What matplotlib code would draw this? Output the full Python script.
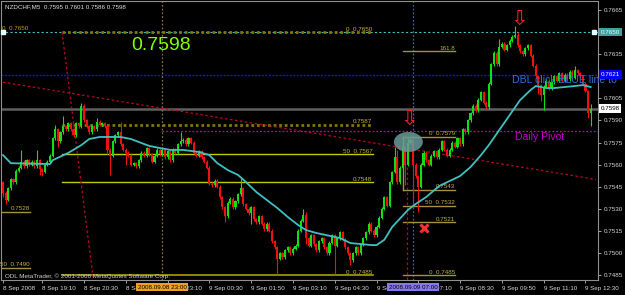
import numpy as np
import pandas as pd
import matplotlib
matplotlib.use("Agg")
import matplotlib.pyplot as plt
import matplotlib.transforms as mtransforms
from matplotlib.patches import Ellipse

# NZDCHF M5 bars, 8 Sep 2008 17:55 .. 9 Sep 2008 12:40, closes in pips
closes_pips = [
    7541, 7536, 7544, 7550, 7548, 7556, 7558, 7562, 7559, 7563,
    7560, 7562, 7559, 7563, 7557, 7555, 7560, 7562, 7566, 7578,
    7584, 7576, 7582, 7586, 7584, 7588, 7584, 7580, 7588, 7586,
    7600, 7590, 7586, 7582, 7586, 7584, 7589, 7587, 7588,
    7586, 7570, 7566, 7576, 7580, 7582, 7574, 7570, 7568, 7566,
    7560, 7561, 7559, 7563, 7568, 7566, 7571, 7567,
    7562, 7566, 7570, 7567, 7570, 7565, 7569, 7563, 7570, 7568,
    7574, 7576, 7577, 7574, 7578, 7575, 7568, 7566, 7569, 7565,
    7562, 7558, 7547, 7546, 7549, 7545, 7538, 7531, 7525, 7534,
    7537, 7531, 7535, 7540, 7544, 7533, 7530, 7527, 7531, 7523,
    7521, 7525, 7520, 7516, 7520, 7515, 7508, 7504, 7496, 7500,
    7497, 7502, 7504, 7500, 7503,
    7505, 7515, 7522, 7526, 7510, 7505, 7512, 7506, 7502, 7508,
    7510, 7504, 7500, 7507, 7512, 7505, 7510, 7514, 7509, 7504,
    7500, 7495, 7500, 7504, 7500, 7506, 7510, 7514, 7520, 7515,
    7512, 7518, 7524, 7530, 7538, 7532, 7548, 7555, 7565, 7548,
    7558, 7572, 7560, 7575, 7577, 7560, 7552, 7545, 7560, 7568,
    7563, 7560, 7566, 7569, 7565, 7570, 7576, 7570, 7566, 7570,
    7575, 7572, 7578, 7574, 7584, 7582, 7590, 7595, 7600, 7597,
    7604, 7609, 7602, 7599, 7615, 7628, 7636, 7628, 7640, 7642,
    7638, 7641,
    7644, 7647, 7648, 7641, 7637, 7635, 7639, 7641,
    7634, 7627, 7620, 7614, 7607, 7613, 7617, 7612, 7616, 7620,
    7617, 7622, 7617, 7621, 7618, 7623, 7619, 7624, 7622, 7620,
    7615, 7610, 7595, 7598,
]
first_open_pips = 7548

# wicks that stick out more than a pip (bar index -> price in pips)
high_pips = {7: 7570, 13: 7570, 20: 7587, 23: 7593, 30: 7602, 36: 7592, 45: 7589,
             68: 7582, 91: 7551, 115: 7530, 116: 7528, 150: 7572, 151: 7570,
             153: 7578, 155: 7579, 190: 7645, 196: 7654, 197: 7650, 219: 7627,
             225: 7601}
low_pips = {0: 7538, 1: 7533, 14: 7553, 15: 7552, 21: 7572, 40: 7567, 41: 7553,
            47: 7560, 85: 7521, 95: 7520, 105: 7486, 116: 7506, 127: 7486,
            133: 7492, 154: 7546, 157: 7531, 159: 7528, 205: 7608, 206: 7603,
            207: 7597, 224: 7592, 225: 7586}

# moving average (cyan)
ma_bar = [0, 3, 18, 19, 25, 30, 33, 37, 45, 49, 53, 56, 60, 64, 69, 75, 79, 82,
          86, 90, 93, 97, 101, 105, 109, 113, 116, 120, 129, 133, 141, 143, 146,
          149, 155, 158, 162, 167, 171, 175, 179, 183, 186, 190, 194, 198, 202,
          204, 208, 211, 215, 219, 222, 225]
ma_pips = [7566.5, 7561, 7560.4, 7563, 7568, 7573.3, 7577.4, 7578.8, 7578.8,
           7577.4, 7574.7, 7572.7, 7571.3, 7570, 7570, 7568.6, 7566.5, 7561.1,
           7556.4, 7553, 7548.2, 7541.4, 7536, 7530.6, 7524.5, 7519, 7515.6,
           7513.6, 7510.2, 7506.8, 7505.4, 7505.4, 7509, 7517.7, 7529.2, 7533.3,
           7538, 7545.5, 7548.9, 7552.3, 7558.4, 7566.5, 7573.3, 7583.5, 7593.7,
           7603.9, 7610.7, 7613.4, 7612, 7612, 7612.7, 7613.4, 7614, 7612.7]

# fibonacci objects
fib_a_levels = [0.7650, 0.7587, 0.7567, 0.7548, 0.7485]
fib_a_labels = ["0  0.7650", "0.7587", "50  0.7567", "0.7548", "0  0.7485"]
fib_a_span = (22.6, 141.7)
fib_b_levels = [0.7637, 0.7579, 0.7543, 0.7532, 0.7521, 0.7485]
fib_b_labels = ["161.8", "0  0.7579", "0.7543", "50  0.7532", "0.7521", "0  0.7485"]
fib_b_span = (153.1, 173.0)
fib_c_levels = [0.7528, 0.7490]
fib_c_labels = ["0.7528", "50  0.7490"]
fib_c_span = (-1.0, 10.3)

cyan_level = 0.7650
cyan_label = "0  0.7650"
blue_level = 0.7621
bid_level = 0.7598
pivot_level = 0.7583
vline_times = ["2008-09-08 23:00", "2008-09-09 07:00"]
trend_a = ([0, 227], [0.7616, 0.7550])
trend_b = ([22.6, 34.5], [0.7650, 0.7483])
trend_c = ([154.6, 154.6], [0.7579, 0.7470])
arrows = [(197.5, 0.7659), (155.4, 0.7591)]
cross = (161.2, 0.7517)
ellipse_c = (155.2, 0.75754)

start = pd.Timestamp("2008-09-08 17:55")
n = len(closes_pips)
times = start + pd.to_timedelta(np.arange(n) * 5, unit="min")

c = np.array(closes_pips) / 1e4
o = np.concatenate([[first_open_pips / 1e4], c[:-1]])
hi = np.maximum(o, c) + 0.0001
lo = np.minimum(o, c) - 0.0001
for k, v in high_pips.items():
    hi[k] = v / 1e4
for k, v in low_pips.items():
    lo[k] = v / 1e4
x = np.arange(n)

BG = "black"
small = ["Liberation Sans Narrow", "Liberation Sans", "DejaVu Sans"]
fs = 4.5
fig = plt.figure(figsize=(6.25, 2.95), dpi=100, facecolor=BG)
ax = fig.add_axes([1 / 625, 1 - 280 / 295, 597 / 625, 279 / 295], facecolor=BG)
ax.set_xlim(-0.77, 227.8)
ax.set_ylim(0.74817, 0.76711)

# horizontal lines across the chart
ax.axhline(cyan_level, color="#40c0c0", lw=0.8, ls=(0, (2, 2)), zorder=1)
ax.axhline(blue_level, color="#1010ff", lw=1.0, ls=(0, (1.5, 1)), zorder=1)
ax.axhline(bid_level, color="#606060", lw=1.8, zorder=1)
ax.plot([61, 227.8], [pivot_level, pivot_level], color="#c000c0", lw=0.9, ls=(0, (1.5, 1.5)), zorder=1)
ax.text(-0.3, cyan_level + 0.00005, cyan_label, color="#c89632", fontsize=fs, family=small,
        ha="left", va="bottom", zorder=3)

for t, col in zip(vline_times, ["#807040", "#5050d0"]):
    xi = times.get_loc(pd.Timestamp(t))
    ax.axvline(xi, color=col, lw=0.9, ls=(0, (1.5, 1.5)), zorder=1)

# fib retracements
fx0, fx1 = fib_a_span
styles = [("#807800", 2.0, (0, (1, 1))), ("#807800", 2.0, (0, (1, 1))),
          ("#c8c800", 1.0, "-"), ("#c8c800", 1.0, "-"), ("#a8a000", 1.2, "-")]
for lev, lab, (col, lw, ls) in zip(fib_a_levels, fib_a_labels, styles):
    ax.plot([fx0, fx1], [lev, lev], color=col, lw=lw, ls=ls, zorder=2)
    ax.text(fx1 - 0.3, lev + 0.00003, lab, color="#c8b040", fontsize=fs, family=small,
            ha="right", va="bottom", zorder=3)
fx0, fx1 = fib_b_span
for lev, lab in zip(fib_b_levels, fib_b_labels):
    ax.plot([fx0, fx1], [lev, lev], color="#a89040", lw=1.0, zorder=2)
    ax.text(fx1, lev + 0.00003, lab, color="#c8b040", fontsize=fs, family=small,
            ha="right", va="bottom", zorder=3)
ax.plot([fx0, fx0], [fib_b_levels[2], fib_b_levels[1]], color="#a89040", lw=1.0, zorder=2)
fx0, fx1 = fib_c_span
for lev, lab in zip(fib_c_levels, fib_c_labels):
    ax.plot([fx0, fx1], [lev, lev], color="#a89040", lw=1.0, zorder=2)
    ax.text(fx1, lev + 0.00003, lab, color="#c8b040", fontsize=fs, family=small,
            ha="right", va="bottom", zorder=3)

for xs, ys in [trend_a, trend_b, trend_c]:
    ax.plot(xs, ys, color="#c00030", lw=0.9, ls=(0, (2, 2)), zorder=2)

# candles
up = c >= o
cols = np.where(up, "#10e010", "#f01010")
ax.vlines(x, lo, hi, colors=cols, lw=0.8, zorder=4)
body = np.maximum(np.abs(c - o), 0.00004)
ax.bar(x, body, bottom=np.minimum(o, c), width=0.8, color=cols, linewidth=0, zorder=4)

# moving average
ax.plot(ma_bar, np.array(ma_pips) / 1e4, color="#40c0c0", lw=1.3, zorder=5)

# marks
ax.add_patch(Ellipse(ellipse_c, 11.1, 0.00136, facecolor="#6a9a9a", edgecolor="none",
                     alpha=0.85, zorder=6))
for ax_x, ax_y in arrows:
    ax.text(ax_x, ax_y, "\u21e9", color="#ff2020", fontsize=15, ha="center", va="center",
            family="DejaVu Sans", zorder=7)
ax.plot(*cross, marker="x", ms=6, mew=2.2, color="#ff3030", zorder=7)
ax.plot([0, 226.3], [cyan_level, cyan_level], ls="none", marker="s", ms=2.2,
        color="#e0ffff", zorder=7, clip_on=False)

# texts on chart
ax.text(49, 0.76406, "0.7598", color="#80ff00", fontsize=14, family="Liberation Sans",
        va="center", ha="left", zorder=7)
ax.text(194.9, blue_level - 0.00002, "DBL click BLUE line to", color="#2f6fd0",
        fontsize=7.6, family="Liberation Sans", va="top", ha="left", zorder=7)
ax.text(196, pivot_level - 0.00008, "Daily Pivot", color="#c000c0", fontsize=7.5,
        family="Liberation Sans", va="top", ha="left", zorder=7)
ax.text(0.006, 0.99, "NZDCHF,M5  0.7595 0.7601 0.7586 0.7598", transform=ax.transAxes,
        color="#e0e0e0", fontsize=fs, family=small, va="top", ha="left", zorder=8)
ax.text(0.006, 0.004, "ODL MetaTrader, \u00a9 2001-2008 MetaQuotes Software Corp.",
        transform=ax.transAxes, color="#d0d0d0", fontsize=fs, family=small,
        va="bottom", ha="left", zorder=8)

# axes
for s in ax.spines.values():
    s.set_color("#909090")
    s.set_linewidth(0.8)
ax.yaxis.tick_right()
yt = np.round(np.arange(0.7485, 0.76651, 0.0015), 4)
ax.set_yticks(yt)
ax.set_yticklabels([f"{v:.4f}" for v in yt], family=small)
tick_idx = [0] + list(range(15, n, 16))
tick_lab = ["8 Sep 2008"] + [f"{times[i].day} {times[i]:%b} {times[i]:%H:%M}" for i in tick_idx[1:]]
ax.set_xticks(tick_idx)
ax.set_xticklabels(tick_lab, ha="left", family=small)
ax.tick_params(colors="#a0a0a0", labelcolor="#d8d8d8", labelsize=fs, length=2.5, width=0.7,
               direction="out", pad=1.5)

# highlighted labels on the axes
ytr = mtransforms.blended_transform_factory(ax.transAxes, ax.transData)
for lev, fc, tc in [(cyan_level, "#40a0a0", "#e8ffff"), (blue_level, "#0000ff", "#ffffff"),
                    (bid_level, "#ffffff", "#000000")]:
    ax.text(1.004, lev, f"{lev:.4f}", transform=ytr, color=tc, fontsize=fs, family=small,
            ha="left", va="center", clip_on=False, zorder=9,
            bbox=dict(boxstyle="square,pad=0.3", fc=fc, ec="none"))
xtr = mtransforms.blended_transform_factory(ax.transData, ax.transAxes)
for t, fc in zip(vline_times, ["#f0a020", "#8878f0"]):
    xi = times.get_loc(pd.Timestamp(t))
    ax.text(xi, -0.026, pd.Timestamp(t).strftime("%Y.%m.%d %H:%M"), transform=xtr,
            color="#000000", fontsize=fs, family=small, ha="center", va="center",
            clip_on=False, zorder=9, bbox=dict(boxstyle="square,pad=0.25", fc=fc, ec="none"))

fig.savefig("out.png", dpi=100, facecolor=BG)
